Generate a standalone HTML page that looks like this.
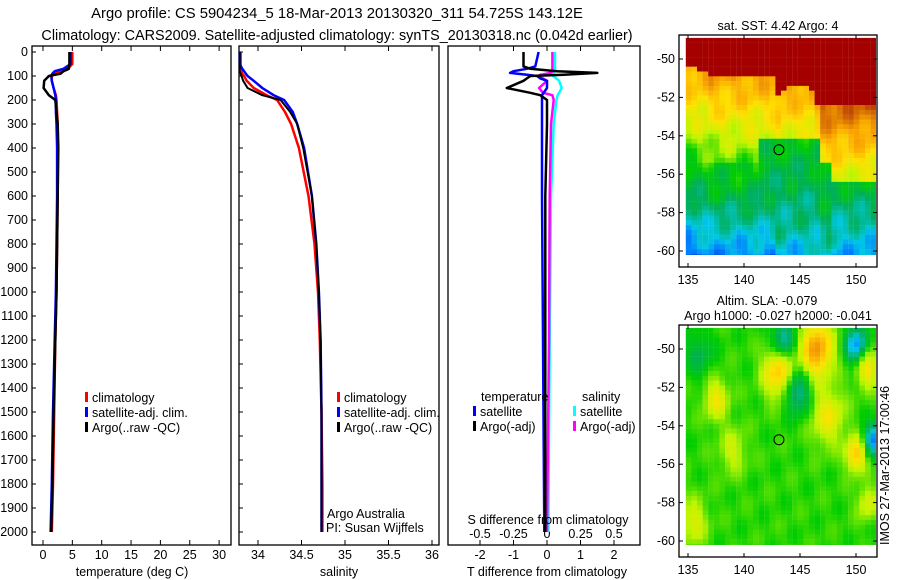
<!DOCTYPE html>
<html><head><meta charset="utf-8"><style>
html,body{margin:0;padding:0;background:#fff;width:900px;height:580px;overflow:hidden}
svg{font-family:"Liberation Sans",sans-serif;display:block}
</style></head><body>
<svg id="fig" width="900" height="580" viewBox="0 0 900 580">
<text x="337" y="18" font-size="14.8" text-anchor="middle">Argo profile: CS 5904234_5 18-Mar-2013 20130320_311 54.725S 143.12E</text>
<text x="337" y="40" font-size="14.4" text-anchor="middle">Climatology: CARS2009. Satellite-adjusted climatology: synTS_20130318.nc (0.042d earlier)</text>
<g id="g1"></g>
<g id="g2"></g>
<g id="g3"></g>
<g id="g4"></g>
<g id="g5"></g>
<text x="327" y="518" font-size="12.5">Argo Australia</text>
<text x="326" y="532" font-size="12.5">PI: Susan Wijffels</text>
<text transform="translate(889,545) rotate(-90)" font-size="12.5">IMOS 27-Mar-2013 17:00:46</text>
</svg>
<script>
const NS="http://www.w3.org/2000/svg";
// ---- data ----
const depths=[0,50,70,80,90,100,120,150,180,200,250,300,400,600,800,1000,1200,1500,1800,2000];
const climT=[5.0,5.0,4.2,3.0,2.0,1.5,1.5,1.8,2.2,2.3,2.4,2.5,2.5,2.5,2.4,2.3,2.1,1.9,1.7,1.5];
const satT=[4.7,4.7,3.5,2.0,1.6,1.4,1.5,1.8,2.1,2.2,2.2,2.3,2.4,2.4,2.3,2.2,2.0,1.7,1.5,1.3];
const argoT=[4.5,4.5,4.4,3.5,3.0,1.0,0.2,0.1,1.0,2.1,2.3,2.5,2.6,2.5,2.4,2.3,2.1,1.8,1.6,1.4];
const climS=[33.8,33.8,33.8,33.81,33.82,33.84,33.87,33.95,34.1,34.22,34.31,34.38,34.47,34.58,34.65,34.69,34.71,34.73,34.74,34.74];
const satS=[33.79,33.79,33.82,33.84,33.86,33.88,33.95,34.05,34.18,34.3,34.4,34.45,34.53,34.62,34.67,34.7,34.72,34.73,34.73,34.73];
const argoS=[33.79,33.79,33.79,33.79,33.8,33.81,33.83,33.88,34.05,34.26,34.37,34.45,34.52,34.62,34.67,34.7,34.72,34.73,34.73,34.73];
const dDepths=[0,60,70,80,87,95,100,110,120,150,170,180,200,300,600,1200,2000];
const satTdiff=[-0.25,-0.35,-0.6,-1.0,-1.1,-0.6,-0.3,-0.2,0.0,0.0,-0.1,-0.15,-0.15,-0.15,-0.15,-0.12,-0.08];
const argoTdiff=[-0.7,-0.7,-0.5,0.3,1.5,0.5,-0.5,-0.6,-0.7,-1.2,-0.5,-0.2,0.0,0.0,-0.05,-0.05,-0.05];
const satSdiff=[0.06,0.06,0.06,0.06,0.05,0.045,0.045,0.07,0.09,0.11,0.09,0.08,0.07,0.05,0.03,0.02,0.01];
const argoSdiff=[0.04,0.04,0.04,0.04,0.03,-0.05,-0.07,-0.03,0.0,-0.06,-0.03,0.04,0.05,0.03,0.02,0.015,0.0];
const tTicks=[0,5,10,15,20,25,30];
const sTicks=[34,34.5,35,35.5,36];
const dTicks=[0,100,200,300,400,500,600,700,800,900,1000,1100,1200,1300,1400,1500,1600,1700,1800,1900,2000];
const tdTicks=[-2,-1,0,1,2];
const sdTicks=[-0.5,-0.25,0,0.25,0.5];
const sdLabels=["-0.5","-0.25","0","0.25","0.5"];
const lonTicks=[135,140,145,150];
const latTicks=[-50,-52,-54,-56,-58,-60];
const argoPos=[143.12,-54.725];
// ---- helpers ----
function el(p,tag,a){const e=document.createElementNS(NS,tag);for(const k in a)e.setAttribute(k,a[k]);p.appendChild(e);return e;}
function txt(p,x,y,s,anchor,size){const t=el(p,'text',{x:x,y:y,'font-size':size||12.5,'text-anchor':anchor||'start'});t.textContent=s;return t;}
const yD=d=>52+0.24*d;
const xT=v=>43+5.87*v;
const xS=v=>258+87*(v-34);
const xTd=v=>547+33.5*v;
const xSd=v=>547+134*v;
function box(g,x0,x1,y0,y1){const r=el(g,'rect',{x:x0,y:y0,width:x1-x0,height:y1-y0,fill:'none',stroke:'#000','stroke-width':1.3});}
function line(g,xs,ds,fx,col,w,name){const pts=xs.map((v,i)=>fx(v).toFixed(1)+','+yD(ds[i]).toFixed(1)).join(' ');const p=el(g,'polyline',{points:pts,fill:'none',stroke:col,'stroke-width':w,'stroke-linejoin':'round'});}
function xticks(g,vals,fx,y0,y1,labels,ly){vals.forEach((v,i)=>{const x=fx(v);el(g,'line',{x1:x,y1:y1,x2:x,y2:y1-5,stroke:'#000'});el(g,'line',{x1:x,y1:y0,x2:x,y2:y0+5,stroke:'#000'});if(labels){const t=txt(g,x,ly,labels[i],'middle');}});}
function legend(g,x,y,items){items.forEach((it,i)=>{el(g,'rect',{x:x,y:y+i*15-10,width:3,height:10,fill:it[1]});const t=txt(g,x+7,y+i*15,it[0]);});}
// ---- panel 1 ----
const g1=document.getElementById('g1');
box(g1,32,231,46,545);
dTicks.forEach(d=>{const y=yD(d);el(g1,'line',{x1:32,y1:y,x2:36,y2:y,stroke:'#000'});const t=txt(g1,28,y+4,String(d),'end');});
xticks(g1,tTicks,xT,46,545,tTicks.map(String),559);
line(g1,climT,depths,xT,'#f00',2.5,'climatology-temperature-line');
line(g1,satT,depths,xT,'#00f',2.5,'satellite-temperature-line');
line(g1,argoT,depths,xT,'#000',2.5,'argo-temperature-line');
legend(g1,85,402,[['climatology','#f00'],['satellite-adj. clim.','#00f'],['Argo(..raw -QC)','#000']]);
{const t=txt(g1,132,576,'temperature (deg C)','middle');}
// ---- panel 2 ----
const g2=document.getElementById('g2');
box(g2,239,439,46,545);
dTicks.forEach(d=>{const y=yD(d);el(g2,'line',{x1:239,y1:y,x2:243,y2:y,stroke:'#000'});});
xticks(g2,sTicks,xS,46,545,sTicks.map(String),559);
line(g2,climS,depths,xS,'#f00',2.5,'climatology-salinity-line');
line(g2,satS,depths,xS,'#00f',2.5,'satellite-salinity-line');
line(g2,argoS,depths,xS,'#000',2,'argo-salinity-line');
legend(g2,337,402,[['climatology','#f00'],['satellite-adj. clim.','#00f'],['Argo(..raw -QC)','#000']]);
{const t=txt(g2,339,576,'salinity','middle');}
// ---- panel 3 ----
const g3=document.getElementById('g3');
box(g3,448,640,46,545);
xticks(g3,tdTicks,xTd,46,545,tdTicks.map(String),559);
sdTicks.forEach((v,i)=>{const t=txt(g3,xSd(v),538,sdLabels[i],'middle');});
line(g3,satSdiff,dDepths,xSd,'#0ff',2.5,'satellite-salinity-diff-line');
line(g3,argoSdiff,dDepths,xSd,'#f0f',2.5,'argo-salinity-diff-line');
line(g3,satTdiff,dDepths,xTd,'#00f',2.5,'satellite-temperature-diff-line');
line(g3,argoTdiff,dDepths,xTd,'#000',2.5,'argo-temperature-diff-line');
{const t=txt(g3,481,401,'temperature');}
{const t=txt(g3,582,401,'salinity');}
legend(g3,473,416,[['satellite','#00f'],['Argo(-adj)','#000']]);
legend(g3,573,416,[['satellite','#0ff'],['Argo(-adj)','#f0f']]);
{const t=txt(g3,548,524,'S difference from climatology','middle');}
{const t=txt(g3,547,576,'T difference from climatology','middle');}
// ---- maps ----
const lonX=l=>688+11.2*(l-135);
function cmap(v){const st=[[0.15,[0,40,180]],[0.22,[0,120,255]],[0.3,[0,200,230]],[0.4,[0,175,90]],[0.5,[0,205,0]],[0.6,[190,245,0]],[0.7,[255,225,0]],[0.8,[250,165,0]],[0.9,[205,95,0]],[1.0,[165,0,0]]];v=Math.max(0.15,Math.min(1,v));for(let i=1;i<st.length;i++){if(v<=st[i][0]){const a=st[i-1],b=st[i],f=(v-a[0])/(b[0]-a[0]);return 'rgb('+a[1].map((c,k)=>Math.round(c+(b[1][k]-c)*f)).join(',')+')';}}return 'rgb(165,0,0)';}
function boundary(lon){if(lon<137)return -50.4-(lon-135)*0.2;if(lon<143)return -51.0;if(lon<146.5)return -51.8+0.4*Math.sin((lon-143)*0.9);return -52.4;}
function wig(lon,lat){return 0.03*Math.sin(lon*2.7+lat*1.3)+0.025*Math.sin(lon*1.1-lat*3.1);}
function sst(lon,lat){const b=boundary(lon);if(lat>b)return 1;let d=b-lat;let v;
  if(lon>147){v=0.9-d*0.07;}else{v=0.8-d*0.06;}
  if(lat<-55.3&&lon<148)v=Math.min(v,0.5-(-55.3-lat)*0.035);
  if(lat<-56.5&&lon>=148)v=Math.min(v,0.45-(-56.5-lat)*0.05);
  if(lon>141.5&&lon<147&&lat<-54.2)v=Math.min(v,0.47-(-54.2-lat)*0.025);
  return v+wig(lon,lat);}
const slaBlobs=[[143.5,-49.5,-0.2,1],[150,-49.8,-0.28,0.9],[146.5,-50,0.3,1.4],[143,-51.2,0.22,1.3],[144.8,-52.3,-0.18,1.1],[137.5,-52.6,0.15,1.1],[147.5,-53.5,0.15,1.5],[150,-55.5,0.22,0.9],[151.5,-54.7,-0.28,0.8],[139,-55.3,0.1,1.2],[136,-50.3,-0.1,1.2],[151,-51,0.18,1],[135.5,-59,0.12,1.2],[151,-58,0.12,0.9]];
function sla(lon,lat){let v=0.52+wig(lon,lat)*0.4;slaBlobs.forEach(b=>{const d2=((lon-b[0])**2+(lat-b[1])**2)/(b[3]*b[3]);v+=b[2]*Math.exp(-d2);});return v;}
function map(g,top,fn,t1){
  const latY=la=>top+24+19.2*(-50-la);
  const bg=el(g,'g',{});
  for(let lon=134.8;lon<152;lon+=0.5){for(let lat=-48.9;lat>-60.4;lat-=0.25){const x=lonX(lon),y=latY(lat);const w=Math.min(5.7,876-x),h=Math.min(5,top+220-y);if(w<=0||h<=0)continue;el(bg,'rect',{x:x.toFixed(1),y:y.toFixed(1),width:w.toFixed(1),height:h.toFixed(1),fill:cmap(fn(lon+0.25,lat-0.12))});}}
  box(g,679,877,top,top+232);
  lonTicks.forEach(l=>{const x=lonX(l);el(g,'line',{x1:x,y1:top,x2:x,y2:top+4,stroke:'#000'});el(g,'line',{x1:x,y1:top+232,x2:x,y2:top+228,stroke:'#000'});const t=txt(g,x,top+249,String(l),'middle');});
  latTicks.forEach(la=>{const y=latY(la);el(g,'line',{x1:679,y1:y,x2:683,y2:y,stroke:'#000'});el(g,'line',{x1:877,y1:y,x2:873,y2:y,stroke:'#000'});const t=txt(g,675,y+4,String(la),'end');});
  const c=el(g,'circle',{cx:lonX(argoPos[0]),cy:latY(argoPos[1]),r:5,fill:'none',stroke:'#000'});
  
  
  t1.forEach((s,i)=>{const t=txt(g,t1.length>1?(i?778:767):778,top-(t1.length-i-1)*15-5,s,'middle');});
}
map(document.getElementById('g4'),35,sst,['sat. SST: 4.42 Argo: 4']);
map(document.getElementById('g5'),325,sla,['Altim. SLA: -0.079','Argo h1000: -0.027 h2000: -0.041']);
</script>
</body></html>
